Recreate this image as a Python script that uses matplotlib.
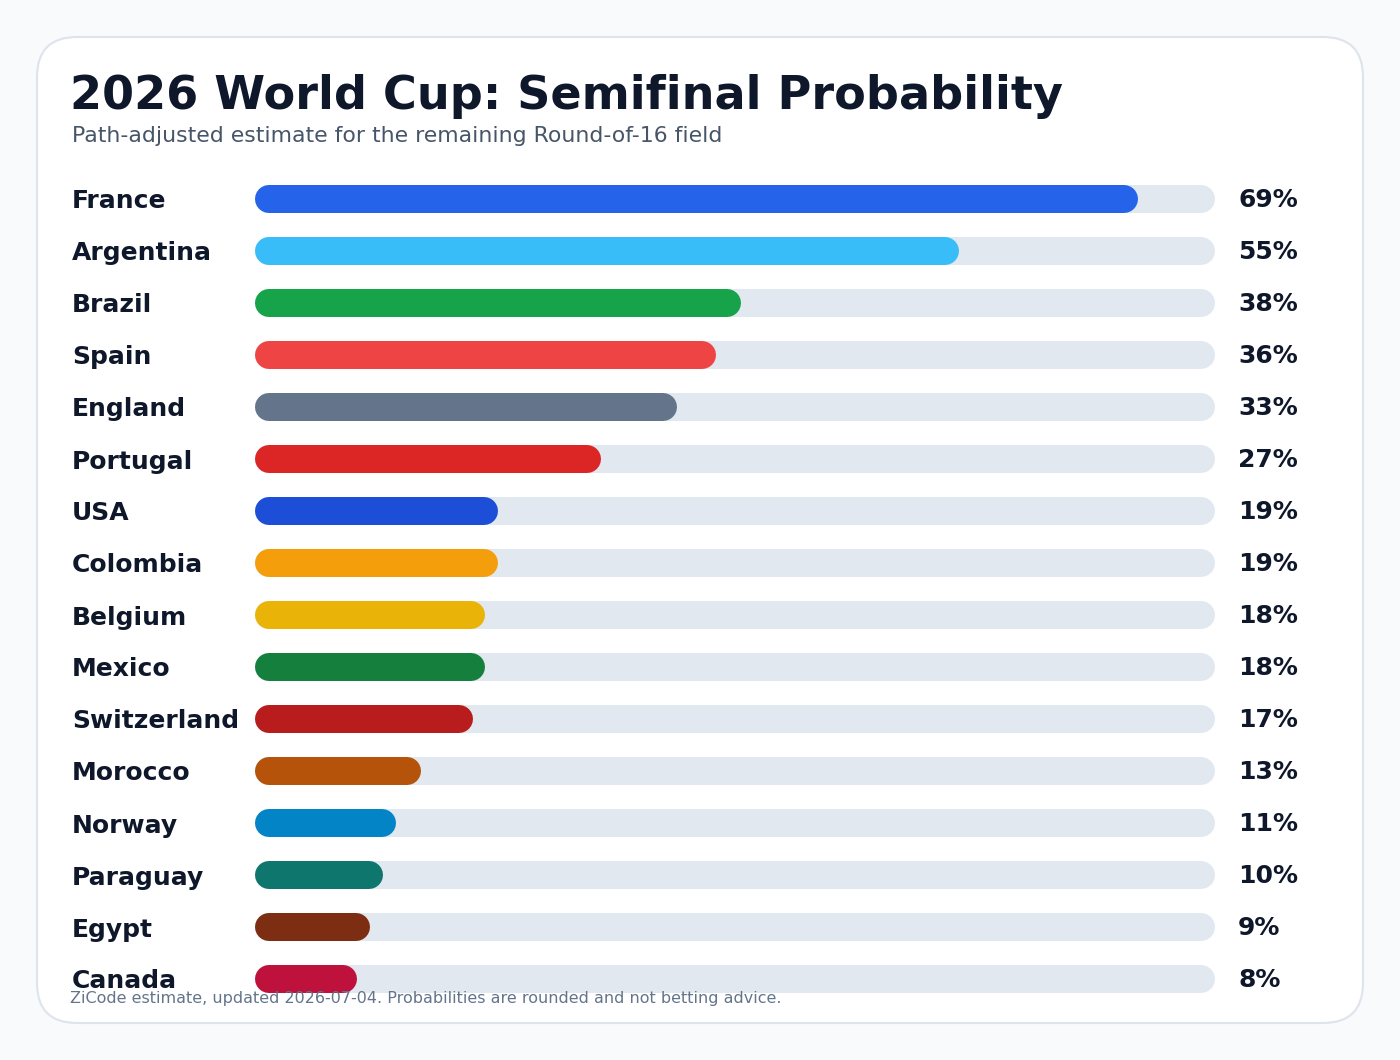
import matplotlib
matplotlib.use("Agg")
import matplotlib.pyplot as plt
from matplotlib.patches import FancyBboxPatch
from matplotlib import transforms

countries = ["France", "Argentina", "Brazil", "Spain", "England", "Portugal", "USA",
             "Colombia", "Belgium", "Mexico", "Switzerland", "Morocco", "Norway",
             "Paraguay", "Egypt", "Canada"]
probs = [69, 55, 38, 36, 33, 27, 19, 19, 18, 18, 17, 13, 11, 10, 9, 8]
colors = ["#2563eb", "#38bdf8", "#16a34a", "#ef4444", "#64748b", "#dc2626", "#1d4ed8",
          "#f59e0b", "#eab308", "#15803d", "#b91c1c", "#b45309", "#0284c7",
          "#0f766e", "#7c2d12", "#be123c"]
scale_max = 75

title = "2026 World Cup: Semifinal Probability"
subtitle = "Path-adjusted estimate for the remaining Round-of-16 field"
footer = "ZiCode estimate, updated 2026-07-04. Probabilities are rounded and not betting advice."

W, H = 1400, 1060
plt.rcParams['font.family'] = ['DejaVu Sans']
fig = plt.figure(figsize=(W / 100, H / 100), dpi=100)
fig.patch.set_facecolor("#f8fafc")

# background card
bg = fig.add_axes([0, 0, 1, 1])
bg.set_xlim(0, W)
bg.set_ylim(H, 0)
bg.axis("off")
card = FancyBboxPatch((37, 37), 1326, 986, boxstyle="round,pad=0,rounding_size=40",
                      facecolor="white", edgecolor="#dde4ec", linewidth=1.5)
bg.add_patch(card)

# bar axes
left_px, right_px = 255, 1215
top_px, row_h = 173, 52
n = len(countries)
bottom_px = top_px + n * row_h
ax = fig.add_axes([left_px / W, 1 - bottom_px / H, (right_px - left_px) / W, n * row_h / H])
ax.set_xlim(0, scale_max)
ax.set_ylim(n - 0.5, -0.5)
ax.axis("off")
ax.patch.set_alpha(0)

bar_px = 28
lw_pt = bar_px * 72 / 100
r = (bar_px / 2) * scale_max / (right_px - left_px)

for i, (c, v, col) in enumerate(zip(countries, probs, colors)):
    ax.plot([r, scale_max - r], [i, i], color="#e2e8f0", lw=lw_pt,
            solid_capstyle="round", zorder=1)
    ax.plot([r, v - r], [i, i], color=col, lw=lw_pt, solid_capstyle="round", zorder=2)

lab_tr = transforms.blended_transform_factory(fig.transFigure, ax.transData)
for i, (c, v) in enumerate(zip(countries, probs)):
    fig.text(72 / W, i, c, transform=lab_tr, ha="left", va="center_baseline",
             fontsize=18, fontweight="bold", color="#0f172a")
    fig.text(1238 / W, i - 0.03, f"{v}%", transform=lab_tr, ha="left", va="center_baseline",
             fontsize=18, fontweight="bold", color="#0f172a")

fig.text(70 / W, 1 - 109 / H, title, ha="left", va="baseline", fontsize=33.2,
         fontweight="bold", color="#0f172a")
fig.text(72 / W, 1 - 142 / H, subtitle, ha="left", va="baseline", fontsize=15.8,
         color="#475569")
fig.text(70 / W, 1 - 1003 / H, footer, ha="left", va="baseline", fontsize=11.5,
         color="#64748b", zorder=10)

fig.savefig("out.png", dpi=100, facecolor=fig.get_facecolor())
